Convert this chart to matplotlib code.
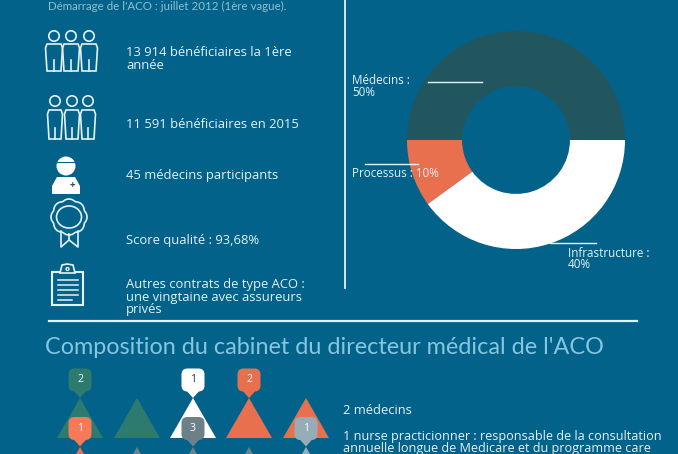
"""
Infographic: ACO key figures, donut of the composition and the cabinet pictogram
"""
import math

import matplotlib
matplotlib.use('Agg')
import matplotlib.pyplot as plt
from matplotlib.patches import Circle, Ellipse, FancyBboxPatch, Polygon, Rectangle

W, H = 678, 454
BG = '#03628a'
TEXT = '#e4f1f5'
DARK = '#22565e'
ORANGE = '#e8704e'
TEAL = '#2d7a6f'
GREY = '#6b8087'
LIGHT = '#96adb8'
SALMON = '#f47a5a'

# donut
shares = [50, 10, 40]
share_colors = [DARK, ORANGE, 'white']

# key figures
key_texts = ['13 914 bénéficiaires la 1ère\nannée', '11 591 bénéficiaires en 2015',
             '45 médecins participants', 'Score qualité : 93,68%',
             'Autres contrats de type ACO :\nune vingtaine avec assureurs\nprivés']
key_y = [59, 124, 175.5, 240.5, 297]

# cabinet pictogram
top_counts = ['2', '', '1', '2', '']
top_badges = [TEAL, None, 'white', ORANGE, None]
top_triangles = [TEAL, TEAL, 'white', ORANGE, ORANGE]
low_counts = ['1', '', '3', '', '1']
low_badges = [SALMON, None, GREY, None, LIGHT]
low_triangles = [ORANGE, GREY, GREY, GREY, LIGHT]
column_x = [80, 137, 193, 249, 306]

plt.rcParams['font.family'] = ['Open Sans', 'DejaVu Sans']

fig = plt.figure(figsize=(W / 100, H / 100), dpi=100, facecolor=BG)
ax = fig.add_axes([0, 0, 1, 1])
ax.set_xlim(0, W)
ax.set_ylim(H, 0)
ax.axis('off')


def person(x, head_y, half_width, body_top, body_bottom):
    ax.add_patch(Circle((x, head_y), 5.2, fc='none', ec=TEXT, lw=1.2))
    body = [(x - half_width + 1.5, body_top), (x + half_width - 1.5, body_top),
            (x + half_width, body_top + 4), (x + half_width - 1.5, body_bottom),
            (x - half_width + 1.5, body_bottom), (x - half_width, body_top + 4)]
    ax.add_patch(Polygon(body, closed=True, fc='none', ec=TEXT, lw=1.2))
    ax.plot([x, x], [body_bottom - 11, body_bottom], color=TEXT, lw=1.2)


def badge(x, y, color, label):
    ax.add_patch(Polygon([(x - 8, y + 9), (x + 8, y + 9), (x, y + 18)], closed=True, fc=color, ec='none'))
    ax.add_patch(FancyBboxPatch((x - 6.5, y - 6.5), 13, 13, boxstyle='round,pad=5,rounding_size=6',
                                fc=color, ec='none'))
    text_color = '#333333' if color == 'white' else 'white'
    ax.text(x, y, label, color=text_color, fontsize=7.5, ha='center', va='center')


ax.text(48, 6, "Démarrage de l'ACO : juillet 2012 (1ère vague).", color='#8fc0d2',
        fontsize=8.3, va='center', family=['Lato', 'DejaVu Sans'])

# people icons
for px in (54, 71, 89):
    person(px, 36, 8.5, 44, 71)
for px in (55, 72, 88):
    person(px, 101, 7.5, 110, 139)

# doctor icon
ax.add_patch(Circle((66, 166), 9.5, fc='white', ec='none'))
ax.plot([56, 76], [162, 162], color=BG, lw=0.8)
ax.add_patch(Polygon([(52, 194), (52, 186), (57, 177), (75, 177), (80, 186), (80, 194)],
                     closed=True, fc='white', ec='none'))
ax.text(72.5, 185.5, '+', color=DARK, fontsize=7, weight='bold', ha='center', va='center')

# medal icon, scalloped outline
scallop = []
for step in range(120):
    angle = 2 * math.pi * step / 120
    radius = 16.5 + 1.5 * abs(math.cos(4 * angle))
    scallop.append((69 + radius * math.cos(angle), 217 + radius * math.sin(angle)))
ax.add_patch(Polygon(scallop, closed=True, fc='none', ec=TEXT, lw=1.2))
ax.add_patch(Ellipse((69, 217), 25, 22, fc='none', ec=TEXT, lw=1.2))
ax.plot([61, 61, 69, 78, 78], [231, 247, 240, 247, 231], color=TEXT, lw=1.2)
ax.plot([69, 69], [234, 240], color=TEXT, lw=1.2)

# clipboard icon
ax.add_patch(Rectangle((52, 272), 31, 33, fc='none', ec=TEXT, lw=1.5))
ax.add_patch(Polygon([(60, 273), (62, 265), (67, 264), (73, 265), (75, 273)], closed=True, fc=BG, ec=TEXT, lw=1.2))
ax.add_patch(Circle((67.5, 269), 1.5, fc='none', ec=TEXT, lw=1))
for ly in (280, 285, 290, 295, 300):
    ax.plot([58, 78 if ly < 300 else 72], [ly, ly], color=TEXT, lw=1.1)

for y, label in zip(key_y, key_texts):
    ax.text(126, y, label, color=TEXT, fontsize=9.4, va='center', linespacing=0.95)

ax.plot([345, 345], [0, 288], color=TEXT, lw=1.3)
ax.plot([49, 637], [321, 321], color=TEXT, lw=1.6)

# donut, drawn by the library from the shares
donut_ax = fig.add_axes([(516 - 109) / W, 1 - (140 + 109) / H, 218 / W, 218 / H])
donut_ax.pie(shares, colors=share_colors, startangle=0, counterclock=True, radius=1,
             wedgeprops={'width': 0.505, 'linewidth': 0})
donut_ax.set_xlim(-1, 1)
donut_ax.set_ylim(-1, 1)

label_ax = fig.add_axes([0, 0, 1, 1])
label_ax.set_xlim(0, W)
label_ax.set_ylim(H, 0)
label_ax.axis('off')
label_ax.plot([428, 482], [81.5, 81.5], color=TEXT, lw=1)
label_ax.plot([365, 418], [163.5, 163.5], color=TEXT, lw=1)
label_ax.plot([550, 596], [243, 243], color=TEXT, lw=1)
label_ax.text(352, 86.5, 'Médecins :\n50%', color=TEXT, fontsize=8.4, va='center', linespacing=0.85)
label_ax.text(352, 173.5, 'Processus : 10%', color=TEXT, fontsize=8.4, va='center')
label_ax.text(568, 259, 'Infrastructure :\n40%', color=TEXT, fontsize=8.4, va='center', linespacing=0.85)

ax.text(45, 347, "Composition du cabinet du directeur médical de l'ACO", color='#86c6de',
        fontsize=16.85, va='center', family=['Lato', 'DejaVu Sans'])

# pictogram columns
for i, x in enumerate(column_x):
    ax.add_patch(Polygon([(x, 398), (x - 23, 438), (x + 23, 438)], closed=True, fc=top_triangles[i], ec='none'))
    ax.add_patch(Polygon([(x, 447), (x - 23, 487), (x + 23, 487)], closed=True, fc=low_triangles[i], ec='none'))
for i, x in enumerate(column_x):
    if top_badges[i]:
        badge(x, 380, top_badges[i], top_counts[i])
    if low_badges[i]:
        badge(x, 428.5, low_badges[i], low_counts[i])

ax.text(343, 411, '2 médecins', color=TEXT, fontsize=9.3, va='center')
ax.text(343, 442.5, '1 nurse practicionner : responsable de la consultation\n'
                    'annuelle longue de Medicare et du programme care',
        color=TEXT, fontsize=9.1, va='center', linespacing=0.92)

fig.savefig('out.png', dpi=100, facecolor=BG)
plt.close(fig)
